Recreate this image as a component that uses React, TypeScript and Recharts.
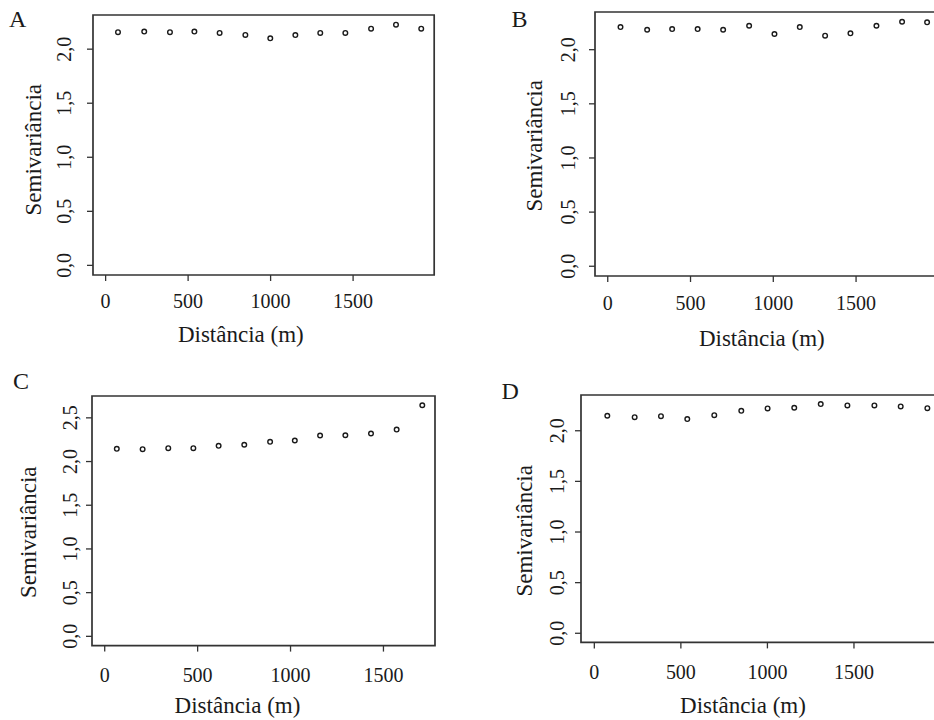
import React from 'react';
import { ScatterChart, Scatter, XAxis, YAxis, ReferenceArea } from 'recharts';

const distA = [75, 234, 390, 538, 691, 847, 998, 1150, 1301, 1453, 1609, 1760, 1913];
const semiA = [2.157, 2.163, 2.157, 2.163, 2.15, 2.132, 2.1, 2.13, 2.15, 2.15, 2.19, 2.227, 2.19];

const distB = [77, 238, 389, 543, 697, 854, 1007, 1160, 1313, 1466, 1623, 1778, 1929];
const semiB = [2.209, 2.184, 2.19, 2.19, 2.184, 2.221, 2.145, 2.209, 2.129, 2.151, 2.221, 2.258, 2.253];

const distC = [65, 204, 342, 477, 613, 751, 890, 1023, 1159, 1295, 1433, 1571, 1709];
const semiC = [2.146, 2.142, 2.153, 2.153, 2.18, 2.192, 2.226, 2.241, 2.298, 2.301, 2.321, 2.366, 2.644];

const distD = [75, 233, 385, 537, 693, 849, 1001, 1155, 1308, 1462, 1618, 1770, 1924];
const semiD = [2.148, 2.134, 2.144, 2.115, 2.154, 2.197, 2.22, 2.227, 2.263, 2.25, 2.25, 2.24, 2.223];

const xTicks = [0, 500, 1000, 1500];
const yTicks = [0, 0.5, 1, 1.5, 2];
const yTicksC = [0, 0.5, 1, 1.5, 2, 2.5];

const panelLetters = ['A', 'B', 'C', 'D'];
const xTitle = 'Distância (m)';
const yTitle = 'Semivariância';

const FONT = '"Liberation Serif", "Times New Roman", serif';
const INK = '#1a1a1a';
const AXIS = '#333';

const toPoints = (xs: number[], ys: number[]) => xs.map((x, i) => ({ x, y: ys[i] }));
const fmtY = (v: number) => v.toFixed(1).replace('.', ',');

const Marker = (props: any) => {
  const { cx, cy } = props;
  return <circle cx={cx} cy={cy} r={2.3} fill="none" stroke={INK} strokeWidth={1.4} />;
};

type PanelProps = {
  data: { x: number; y: number }[];
  left: number;
  top: number;
  width: number;
  height: number;
  xDomain: [number, number];
  yDomain: [number, number];
  yT: number[];
  xLabelDy: number;
  yLabelGap: number;
};

const tickTextStyle = { fontFamily: FONT, fontSize: 20, fill: INK } as const;

const Panel = ({ data, left, top, width, height, xDomain, yDomain, yT, xLabelDy, yLabelGap }: PanelProps) => {
  const YW = 90;
  const XH = 85;
  const mTop = 30;
  const mRight = 10;
  const XTick = (p: any) => (
    <text x={p.x} y={p.y + xLabelDy} textAnchor="middle" style={tickTextStyle}>
      {p.payload.value}
    </text>
  );
  const YTick = (p: any) => {
    const bx = p.x - (yLabelGap - 6);
    return (
      <text x={bx} y={p.y} transform={`rotate(-90 ${bx} ${p.y})`} textAnchor="middle" style={tickTextStyle}>
        {fmtY(p.payload.value)}
      </text>
    );
  };
  return (
    <div style={{ position: 'absolute', left: left - YW, top: top - mTop }}>
      <ScatterChart
        width={width + YW + mRight}
        height={height + mTop + XH}
        margin={{ top: mTop, right: mRight, bottom: 0, left: 0 }}
      >
        <XAxis
          type="number"
          dataKey="x"
          domain={xDomain}
          allowDataOverflow
          ticks={xTicks}
          height={XH}
          axisLine={false}
          tickLine={{ stroke: AXIS, strokeWidth: 1.3 }}
          tickSize={6}
          tickMargin={0}
          tick={XTick}
          interval={0}
        />
        <YAxis
          type="number"
          dataKey="y"
          domain={yDomain}
          allowDataOverflow
          ticks={yT}
          width={YW}
          axisLine={false}
          tickLine={{ stroke: AXIS, strokeWidth: 1.3 }}
          tickSize={6}
          tickMargin={0}
          tick={YTick}
          interval={0}
        />
        <ReferenceArea
          x1={xDomain[0]}
          x2={xDomain[1]}
          y1={yDomain[0]}
          y2={yDomain[1]}
          fill="none"
          fillOpacity={0}
          stroke={AXIS}
          strokeWidth={1.7}
          ifOverflow="visible"
        />
        <Scatter data={data} shape={Marker} isAnimationActive={false} />
      </ScatterChart>
    </div>
  );
};

const titleStyle = { fontFamily: FONT, fill: INK } as const;

export default function App() {
  return (
    <div style={{ position: 'absolute', left: 0, top: 0, width: 934, height: 720, overflow: 'hidden', background: '#fff' }}>
      <Panel
        data={toPoints(distA, semiA)}
        left={92.7}
        top={15}
        width={341.2}
        height={260}
        xDomain={[-76.5, 1991.5]}
        yDomain={[-0.089, 2.316]}
        yT={yTicks}
        xLabelDy={27}
        yLabelGap={22}
      />
      <Panel
        data={toPoints(distB, semiB)}
        left={594.5}
        top={12.3}
        width={345}
        height={264}
        xDomain={[-77, 2007]}
        yDomain={[-0.09, 2.348]}
        yT={yTicks}
        xLabelDy={27.5}
        yLabelGap={20}
      />
      <Panel
        data={toPoints(distC, semiC)}
        left={92}
        top={395.7}
        width={343}
        height={249.6}
        xDomain={[-68.4, 1777.4]}
        yDomain={[-0.106, 2.75]}
        yT={yTicksC}
        xLabelDy={30.5}
        yLabelGap={15}
      />
      <Panel
        data={toPoints(distD, semiD)}
        left={581}
        top={395.3}
        width={359.7}
        height={247.4}
        xDomain={[-77, 2001]}
        yDomain={[-0.09, 2.353]}
        yT={yTicks}
        xLabelDy={31}
        yLabelGap={17}
      />
      <svg width={934} height={720} style={{ position: 'absolute', left: 0, top: 0, pointerEvents: 'none' }}>
        <text x={9} y={26.7} fontSize={24} style={titleStyle}>{panelLetters[0]}</text>
        <text x={511.5} y={26.7} fontSize={24} style={titleStyle}>{panelLetters[1]}</text>
        <text x={13} y={389.3} fontSize={24} style={titleStyle}>{panelLetters[2]}</text>
        <text x={501.5} y={399.3} fontSize={24} style={titleStyle}>{panelLetters[3]}</text>

        <text x={240.8} y={342.3} fontSize={23} textAnchor="middle" style={titleStyle}>{xTitle}</text>
        <text x={761.8} y={345.7} fontSize={23} textAnchor="middle" style={titleStyle}>{xTitle}</text>
        <text x={237.5} y={713.3} fontSize={23} textAnchor="middle" style={titleStyle}>{xTitle}</text>
        <text x={743} y={713.3} fontSize={23} textAnchor="middle" style={titleStyle}>{xTitle}</text>

        <text x={41.5} y={149.7} fontSize={23} textAnchor="middle" transform="rotate(-90 41.5 149.7)" style={titleStyle}>{yTitle}</text>
        <text x={541.7} y={145.8} fontSize={23} textAnchor="middle" transform="rotate(-90 541.7 145.8)" style={titleStyle}>{yTitle}</text>
        <text x={36} y={532.2} fontSize={23} textAnchor="middle" transform="rotate(-90 36 532.2)" style={titleStyle}>{yTitle}</text>
        <text x={532.3} y={530.8} fontSize={23} textAnchor="middle" transform="rotate(-90 532.3 530.8)" style={titleStyle}>{yTitle}</text>
      </svg>
    </div>
  );
}
